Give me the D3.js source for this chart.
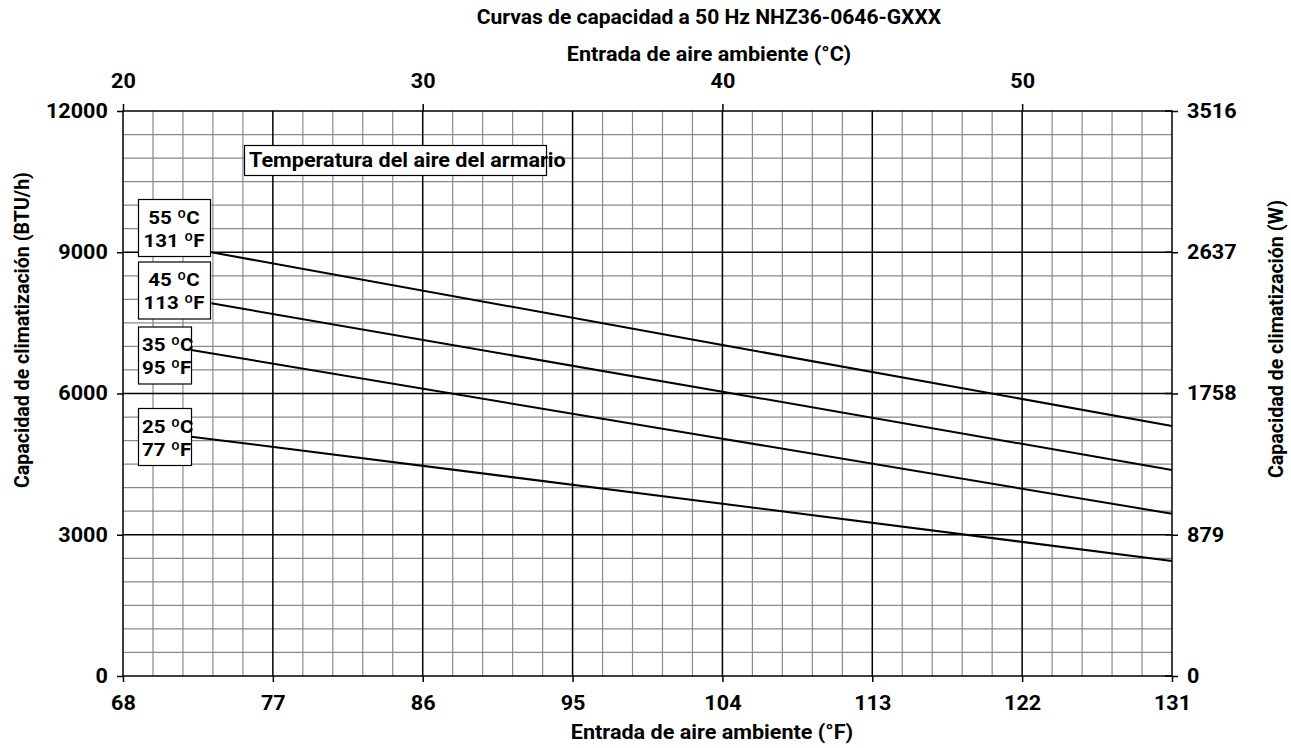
<!DOCTYPE html>
<html>
<head>
<meta charset="utf-8">
<script src="https://cdn.jsdelivr.net/npm/d3@7/dist/d3.min.js"></script>
<style>
  html, body { margin: 0; padding: 0; background: #fff; }
  svg text { font-family: Roboto, "Liberation Sans", sans-serif; font-weight: 700; fill: #000; }
</style>
</head>
<body>
<svg id="chart" width="1291" height="748"></svg>
<script>
// Axis ticks
const fahrenheitTicks = [68, 77, 86, 95, 104, 113, 122, 131];
const celsiusTicks = [20, 30, 40, 50];
const btuTicks = [0, 3000, 6000, 9000, 12000];
const wattTicks = [0, 879, 1758, 2637, 3516];

// Cabinet air temperature curves: ambient inlet (°F) vs capacity (BTU/h)
const cabinetC = ["55 ºC", "45 ºC", "35 ºC", "25 ºC"];
const cabinetF = ["131 ºF", "113 ºF", "95 ºF", "77 ºF"];
const ambient55 = [73.3, 104, 131];
const capacity55 = [9000, 7030, 5310];
const ambient45 = [73.3, 104, 131];
const capacity45 = [7915, 6038, 4375];
const ambient35 = [72.1, 104, 131];
const capacity35 = [6924, 5040, 3447];
const ambient25 = [72.1, 104, 131];
const capacity25 = [5083, 3660, 2442];

const titleText = "Curvas de capacidad a 50 Hz NHZ36-0646-GXXX";
const topTitle = "Entrada de aire ambiente (°C)";
const bottomTitle = "Entrada de aire ambiente (°F)";
const leftTitle = "Capacidad de climatización (BTU/h)";
const rightTitle = "Capacidad de climatización (W)";
const noteText = "Temperatura del aire del armario";

const svg = d3.select("#chart");
const X0 = 123, X1 = 1172, Y0 = 111, Y1 = 676;
const WIDE = 1.08; // horizontal glyph stretch of the chart lettering

const x = d3.scaleLinear([68, 131], [X0, X1]);
const xC = d3.scaleLinear([20, 55], [X0, X1]);
const y = d3.scaleLinear([0, 12000], [Y1, Y0]);
const yW = d3.scaleLinear([0, 3516], [Y1, Y0]);

// grid: minor every 1.8 °F / 500 BTU, major every 9 °F / 3000 BTU
const minorX = d3.range(1, 35).filter(i => i % 5 !== 0).map(i => 68 + i * 1.8);
const majorX = fahrenheitTicks.slice(1, -1);
const minorY = d3.range(1, 24).map(i => i * 500).filter(d => d % 3000 !== 0);
const majorY = btuTicks.slice(1, -1);

const grid = svg.append("g");
grid.selectAll(".mx").data(minorX).join("line")
  .attr("x1", d => x(d)).attr("x2", d => x(d)).attr("y1", Y0).attr("y2", Y1)
  .attr("stroke", "#8a8a8a").attr("stroke-width", 1.2);
grid.selectAll(".my").data(minorY).join("line")
  .attr("y1", d => y(d)).attr("y2", d => y(d)).attr("x1", X0).attr("x2", X1)
  .attr("stroke", "#8a8a8a").attr("stroke-width", 1.2);
grid.selectAll(".Mx").data(majorX).join("line")
  .attr("x1", d => x(d)).attr("x2", d => x(d)).attr("y1", Y0).attr("y2", Y1)
  .attr("stroke", "#000").attr("stroke-width", 1.5);
grid.selectAll(".My").data(majorY).join("line")
  .attr("y1", d => y(d)).attr("y2", d => y(d)).attr("x1", X0).attr("x2", X1)
  .attr("stroke", "#000").attr("stroke-width", 1.5);
svg.append("rect").attr("x", X0).attr("y", Y0).attr("width", X1 - X0).attr("height", Y1 - Y0)
  .attr("fill", "none").attr("stroke", "#000").attr("stroke-width", 1.5);

// axes
function styleAxis(g) {
  g.select(".domain").remove();
  g.selectAll(".tick line").attr("stroke", "#000").attr("stroke-width", 1.5);
  g.selectAll(".tick text").attr("font-size", 20).attr("fill", "#000")
    .attr("transform", `scale(${WIDE},1)`)
    .style("font-family", "Roboto").style("font-weight", 700);
}
svg.append("g").attr("transform", `translate(0,${Y1})`)
  .call(d3.axisBottom(x).tickValues(fahrenheitTicks).tickSize(6).tickPadding(14).tickFormat(d3.format("d")))
  .call(styleAxis);
svg.append("g").attr("transform", `translate(0,${Y0})`)
  .call(d3.axisTop(xC).tickValues(celsiusTicks).tickSize(7).tickPadding(16).tickFormat(d3.format("d")))
  .call(styleAxis);
svg.append("g").attr("transform", `translate(${X0},0)`)
  .call(d3.axisLeft(y).tickValues(btuTicks).tickSize(6).tickPadding(8).tickFormat(d3.format("d")))
  .call(styleAxis);
svg.append("g").attr("transform", `translate(${X1},0)`)
  .call(d3.axisRight(yW).tickValues(wattTicks).tickSize(6).tickPadding(8).tickFormat(d3.format("d")))
  .call(styleAxis);
svg.append("g").attr("transform", `translate(${X1},0)`)
  .selectAll("line").data(wattTicks).join("line")
  .attr("x1", -7).attr("x2", 0).attr("y1", d => yW(d)).attr("y2", d => yW(d))
  .attr("stroke", "#000").attr("stroke-width", 1.5);

// titles
function wideText(tx, ty, size, anchor, str) {
  return svg.append("text").attr("transform", `translate(${tx},${ty}) scale(${WIDE},1)`)
    .attr("text-anchor", anchor).attr("font-size", size).text(str);
}
wideText(709, 24, 19.5, "middle", titleText);
wideText(709, 61, 20, "middle", topTitle);
wideText(712, 739, 20, "middle", bottomTitle);
svg.append("text").attr("transform", "translate(29,488) rotate(-90)").attr("text-anchor", "start").attr("font-size", 19.6).text(leftTitle);
svg.append("text").attr("transform", "translate(1283,478) rotate(-90)").attr("text-anchor", "start").attr("font-size", 19.6).text(rightTitle);

// note box
svg.append("rect").attr("x", 244.5).attr("y", 145.5).attr("width", 302).attr("height", 30)
  .attr("fill", "#fff").attr("stroke", "#000").attr("stroke-width", 1.2);
wideText(249, 166.5, 20, "start", noteText);

// curve label boxes
const labelBoxes = [
  { top: 199.5, w: 72, anchor: "middle", tx: 174 },
  { top: 262, w: 72, anchor: "middle", tx: 174 },
  { top: 327, w: 53, anchor: "start", tx: 142 },
  { top: 408.5, w: 53, anchor: "start", tx: 142 }
];
labelBoxes.forEach(b => {
  svg.append("rect").attr("x", 138.5).attr("y", b.top).attr("width", b.w).attr("height", 57)
    .attr("fill", "#fff").attr("stroke", "#000").attr("stroke-width", 1.2);
});

// curves
const line = d3.line().x(d => x(d[0])).y(d => y(d[1]));
const curves = [
  d3.zip(ambient55, capacity55),
  d3.zip(ambient45, capacity45),
  d3.zip(ambient35, capacity35),
  d3.zip(ambient25, capacity25)
];
svg.append("g").selectAll("path").data(curves).join("path")
  .attr("d", line).attr("fill", "none").attr("stroke", "#000").attr("stroke-width", 2);

labelBoxes.forEach((b, i) => {
  wideText(b.tx, b.top + 24, 19, b.anchor, cabinetC[i]);
  wideText(b.tx, b.top + 47, 19, b.anchor, cabinetF[i]);
});
</script>
</body>
</html>
